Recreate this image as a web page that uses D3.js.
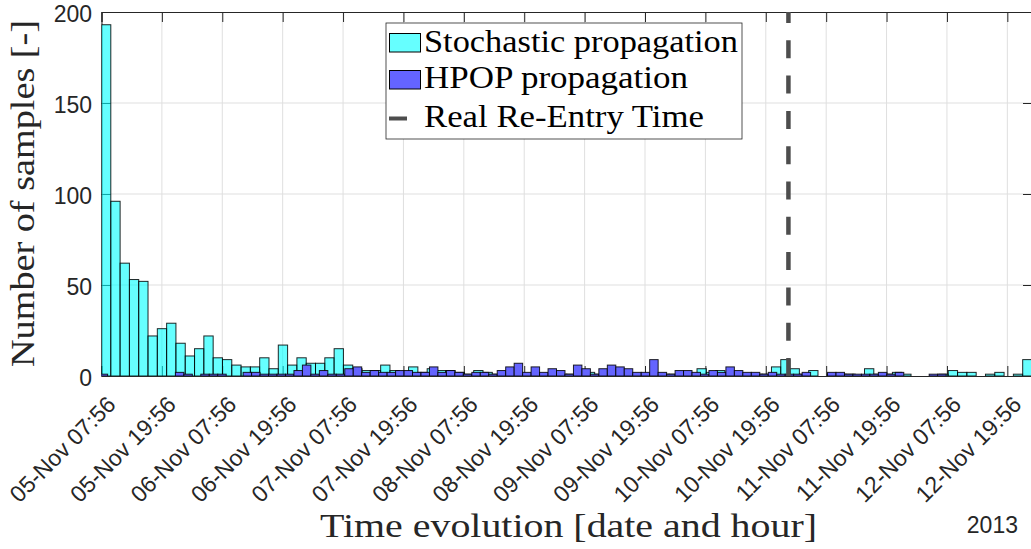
<!DOCTYPE html>
<html>
<head>
<meta charset="utf-8">
<script src="https://cdn.jsdelivr.net/npm/d3@7/dist/d3.min.js"></script>
<style>
  html, body { margin: 0; padding: 0; background: #ffffff; }
  svg { display: block; }
</style>
</head>
<body>
<svg id="chart" width="1031" height="549"></svg>
<script>
// ---------------- DATA ----------------
// Stochastic propagation histogram: 100 equal bins between these two instants
const stochStart = "2013-11-05T07:56Z";
const stochEnd   = "2013-11-13T00:50Z";
const stochCounts = [
  193, 96, 62, 53, 52, 22, 26, 29, 18, 11,
  15, 22, 10, 9, 6, 5, 5, 10, 4, 17,
  6, 10, 7, 7, 10, 15, 6, 4, 3, 3,
  6, 3, 2, 5, 2, 4, 3, 3, 2, 1,
  3, 2, 1, 1, 1, 1, 1, 1, 1, 1,
  1, 1, 2, 1, 1, 1, 1, 1, 1, 1,
  1, 1, 2, 1, 4, 2, 3, 2, 1, 1,
  1, 1, 5, 9, 4, 1, 3, 0, 1, 1,
  1, 0, 4, 1, 1, 2, 1, 0, 0, 0,
  1, 3, 2, 2, 0, 1, 2, 0, 1, 9
];
// HPOP propagation histogram: 100 equal bins between these two instants
const hpopStart = "2013-11-05T07:28Z";
const hpopEnd   = "2013-11-12T07:46Z";
const hpopCounts = [
  1, 0, 0, 0, 0, 0, 0, 0, 0, 2,
  1, 0, 1, 1, 1, 0, 0, 2, 2, 1,
  1, 1, 1, 3, 6, 1, 3, 1, 1, 4,
  5, 2, 3, 2, 2, 3, 3, 2, 2, 5,
  2, 3, 2, 1, 2, 2, 1, 3, 5, 7,
  2, 5, 2, 4, 3, 1, 6, 4, 1, 4,
  6, 5, 4, 2, 2, 9, 2, 1, 3, 3,
  2, 1, 3, 2, 5, 3, 2, 2, 1, 2,
  1, 1, 1, 2, 0, 0, 2, 2, 1, 1,
  1, 1, 2, 1, 2, 0, 0, 0, 1, 1
];
const reentryTime = "2013-11-11T00:26Z";
const xDomainStart = "2013-11-05T07:56Z";
const xDomainEnd   = "2013-11-13T00:50Z";
const xTickLabels = [
  "05-Nov 07:56", "05-Nov 19:56", "06-Nov 07:56", "06-Nov 19:56",
  "07-Nov 07:56", "07-Nov 19:56", "08-Nov 07:56", "08-Nov 19:56",
  "09-Nov 07:56", "09-Nov 19:56", "10-Nov 07:56", "10-Nov 19:56",
  "11-Nov 07:56", "11-Nov 19:56", "12-Nov 07:56", "12-Nov 19:56"
];
const yTicks = [0, 50, 100, 150, 200];
const legendLabels = ["Stochastic propagation", "HPOP propagation", "Real Re-Entry Time"];
const yearLabel = "2013";
const xLabel = "Time evolution [date and hour]";
const yLabel = "Number of samples [-]";

// ---------------- LAYOUT ----------------
const L = 101.5, R = 1032, T = 12, B = 376;
const svg = d3.select("#chart");
const parseIso = d3.isoParse;
const parseTick = d3.utcParse("%Y %d-%b %H:%M");

const x = d3.scaleUtc().domain([parseIso(xDomainStart), parseIso(xDomainEnd)]).range([L, R]);
const y = d3.scaleLinear().domain([0, 200]).range([B, T]);

function bins(start, end, counts) {
  const s = +parseIso(start), e = +parseIso(end), n = counts.length, w = (e - s) / n;
  return counts.map((c, i) => ({ x0: new Date(s + i * w), x1: new Date(s + (i + 1) * w), c }));
}

const tickDates = xTickLabels.map(t => parseTick(yearLabel + " " + t));

svg.append("defs").append("clipPath").attr("id", "clip")
  .append("rect").attr("x", L).attr("y", T).attr("width", R - L).attr("height", B - T);

// grid
const grid = svg.append("g");
grid.selectAll("line.gx").data(tickDates).join("line")
  .attr("x1", d => x(d)).attr("x2", d => x(d)).attr("y1", T).attr("y2", B)
  .attr("stroke", "#dfdfdf").attr("stroke-width", 1);
grid.selectAll("line.gy").data(yTicks.filter(v => v > 0 && v < 200)).join("line")
  .attr("x1", L).attr("x2", R).attr("y1", d => y(d)).attr("y2", d => y(d))
  .attr("stroke", "#dfdfdf").attr("stroke-width", 1);

// axes (ticks inward, drawn beneath the semi-transparent bars)
const axisColor = "#262626";
const xAxisB = d3.axisBottom(x).tickValues(tickDates).tickSize(-10).tickFormat((d, i) => xTickLabels[i]);
const xAxisT = d3.axisTop(x).tickValues(tickDates).tickSize(-10).tickFormat("");
const yAxisL = d3.axisLeft(y).tickValues(yTicks).tickSize(-9).tickFormat(d3.format("d"));
const yAxisR = d3.axisRight(y).tickValues(yTicks).tickSize(-9).tickFormat("");

const gxB = svg.append("g").attr("transform", `translate(0,${B})`).call(xAxisB);
const gxT = svg.append("g").attr("transform", `translate(0,${T})`).call(xAxisT);
const gyL = svg.append("g").attr("transform", `translate(${L},0)`).call(yAxisL);
const gyR = svg.append("g").attr("transform", `translate(${R},0)`).call(yAxisR);
[gxB, gxT, gyL, gyR].forEach(g => {
  g.select(".domain").attr("stroke", axisColor).attr("stroke-width", 1);
  g.selectAll(".tick line").attr("stroke", axisColor).attr("stroke-width", 1);
});
gxB.selectAll(".tick text")
  .attr("font-family", "'Liberation Sans', Arial, sans-serif")
  .attr("font-size", 23).attr("fill", axisColor)
  .attr("text-anchor", "end")
  .attr("y", 0).attr("dy", 0)
  .attr("transform", "translate(15,30) rotate(-45)");
gyL.selectAll(".tick text")
  .attr("font-family", "'Liberation Sans', Arial, sans-serif")
  .attr("font-size", 23).attr("fill", axisColor)
  .attr("x", -9.5).attr("dy", "0.42em");

// bars
const plot = svg.append("g").attr("clip-path", "url(#clip)");
plot.append("g").selectAll("rect").data(bins(stochStart, stochEnd, stochCounts)).join("rect")
  .attr("x", d => x(d.x0)).attr("width", d => x(d.x1) - x(d.x0))
  .attr("y", d => y(d.c)).attr("height", d => y(0) - y(d.c))
  .attr("fill", "#00ffff").attr("fill-opacity", 0.6)
  .attr("stroke", "#000").attr("stroke-opacity", 0.85).attr("stroke-width", 1);
plot.append("g").selectAll("rect").data(bins(hpopStart, hpopEnd, hpopCounts)).join("rect")
  .attr("x", d => x(d.x0)).attr("width", d => x(d.x1) - x(d.x0))
  .attr("y", d => y(d.c)).attr("height", d => y(0) - y(d.c))
  .attr("fill", "#6464ff")
  .attr("stroke", "#000").attr("stroke-opacity", 0.85).attr("stroke-width", 1);

// re-entry line
plot.append("line")
  .attr("x1", x(parseIso(reentryTime))).attr("x2", x(parseIso(reentryTime)))
  .attr("y1", B).attr("y2", T)
  .attr("stroke", "#4d4d4d").attr("stroke-width", 4.5)
  .attr("stroke-dasharray", "18,17.3");

// legend
const lg = svg.append("g");
lg.append("rect").attr("x", 386).attr("y", 23).attr("width", 356).attr("height", 116)
  .attr("fill", "#fff").attr("stroke", "#262626").attr("stroke-width", 0.8);
lg.append("rect").attr("x", 389.5).attr("y", 33.5).attr("width", 31).attr("height", 18.5)
  .attr("fill", "#66ffff").attr("stroke", "#000").attr("stroke-width", 1);
lg.append("rect").attr("x", 389.5).attr("y", 70.5).attr("width", 31).attr("height", 18.5)
  .attr("fill", "#6464ff").attr("stroke", "#000").attr("stroke-width", 1);
lg.append("line").attr("x1", 389).attr("x2", 407).attr("y1", 118.5).attr("y2", 118.5)
  .attr("stroke", "#4d4d4d").attr("stroke-width", 4);
const lgBase = [51.7, 88.3, 126.7], lgLen = [314, 264, 280];
legendLabels.forEach((t, i) => {
  lg.append("text").attr("x", 424).attr("y", lgBase[i])
    .attr("font-family", "'Liberation Serif', 'Times New Roman', serif")
    .attr("font-size", 31).attr("fill", "#000")
    .attr("textLength", lgLen[i]).attr("lengthAdjust", "spacingAndGlyphs")
    .text(t);
});

// axis titles
svg.append("text").attr("x", 568.5).attr("y", 537)
  .attr("text-anchor", "middle")
  .attr("font-family", "'Liberation Serif', 'Times New Roman', serif")
  .attr("font-size", 33).attr("fill", "#262626")
  .attr("textLength", 497).attr("lengthAdjust", "spacingAndGlyphs")
  .text(xLabel);
svg.append("text")
  .attr("transform", "translate(34,193.5) rotate(-90)")
  .attr("text-anchor", "middle")
  .attr("font-family", "'Liberation Serif', 'Times New Roman', serif")
  .attr("font-size", 33).attr("fill", "#262626")
  .attr("textLength", 347).attr("lengthAdjust", "spacingAndGlyphs")
  .text(yLabel);
svg.append("text").attr("x", 1018).attr("y", 533)
  .attr("text-anchor", "end")
  .attr("font-family", "'Liberation Sans', Arial, sans-serif")
  .attr("font-size", 23).attr("fill", "#262626")
  .text(yearLabel);
</script>
</body>
</html>
